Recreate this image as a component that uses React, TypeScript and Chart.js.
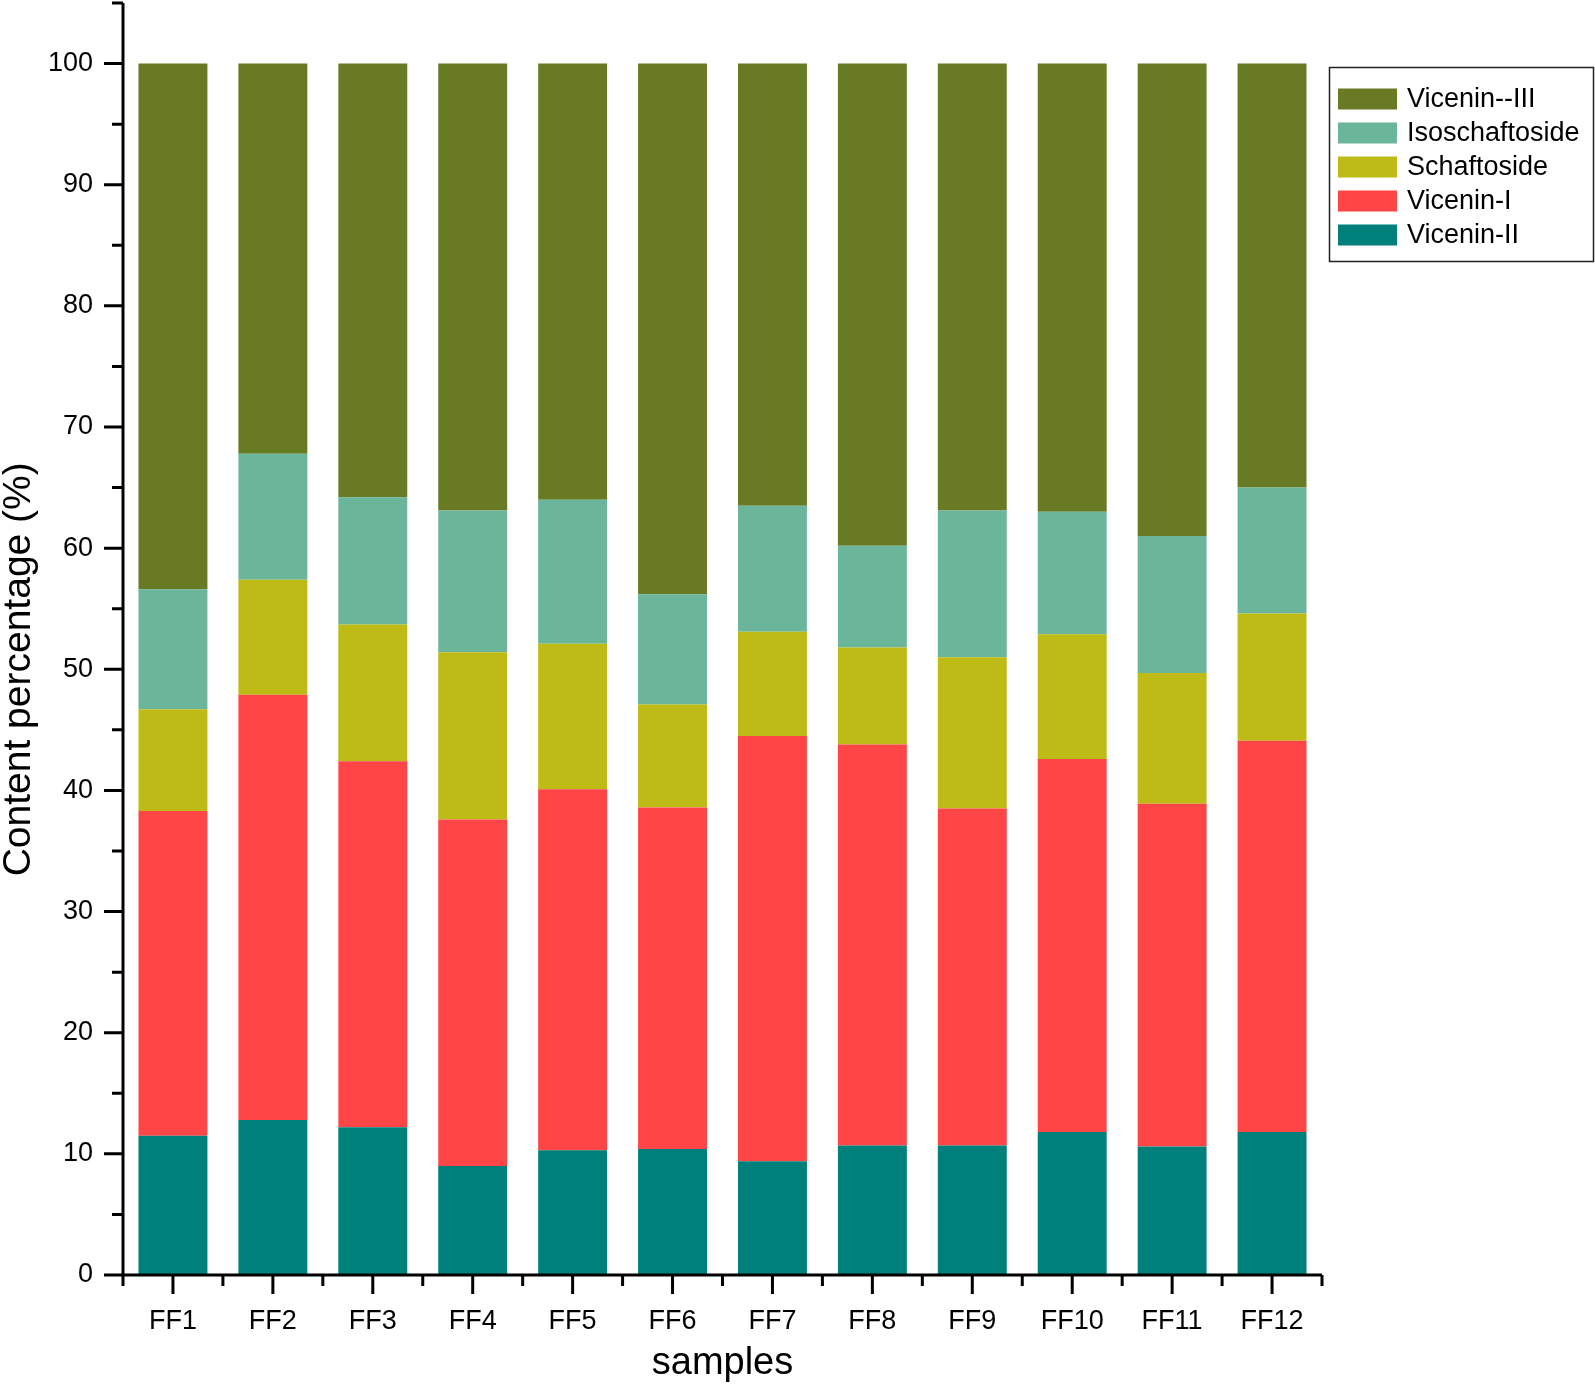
import React, { useEffect, useRef } from "react";
import { Chart, registerables } from "chart.js";

Chart.register(...registerables);

const categories = ["FF1", "FF2", "FF3", "FF4", "FF5", "FF6", "FF7", "FF8", "FF9", "FF10", "FF11", "FF12"];

const viceninII = [11.5, 12.8, 12.2, 9.0, 10.3, 10.4, 9.4, 10.7, 10.7, 11.8, 10.6, 11.8];
const viceninI = [26.8, 35.1, 30.2, 28.6, 29.8, 28.2, 35.1, 33.1, 27.8, 30.8, 28.3, 32.3];
const schaftoside = [8.4, 9.5, 11.3, 13.8, 12.0, 8.5, 8.6, 8.0, 12.5, 10.3, 10.8, 10.5];
const isoschaftoside = [9.9, 10.4, 10.5, 11.7, 11.9, 9.1, 10.4, 8.4, 12.1, 10.1, 11.3, 10.4];
const viceninIII = [43.4, 32.2, 35.8, 36.9, 36.0, 43.8, 36.5, 39.8, 36.9, 37.0, 39.0, 35.0];

const yMajorTicks = [0, 10, 20, 30, 40, 50, 60, 70, 80, 90, 100];
const yMinorTicks = [5, 15, 25, 35, 45, 55, 65, 75, 85, 95, 105];

const FONT = 'Arial, "Liberation Sans", sans-serif';

const series = [
  { label: "Vicenin-II", data: viceninII, color: "#00807A" },
  { label: "Vicenin-I", data: viceninI, color: "#FF4545" },
  { label: "Schaftoside", data: schaftoside, color: "#BEBB17" },
  { label: "Isoschaftoside", data: isoschaftoside, color: "#6BB69A" },
  { label: "Vicenin--III", data: viceninIII, color: "#687A24" },
];

const decorPlugin = {
  id: "decor",
  afterDraw(chart: any) {
    const ctx = chart.ctx;
    const area = chart.chartArea;
    const xs = chart.scales.x;
    const ys = chart.scales.y;
    ctx.save();
    ctx.strokeStyle = "#000";
    ctx.lineWidth = 3;
    ctx.lineCap = "butt";
    // axes
    ctx.beginPath();
    ctx.moveTo(area.left, ys.getPixelForValue(105));
    ctx.lineTo(area.left, area.bottom + 1.5);
    ctx.moveTo(area.left - 1.5, area.bottom);
    ctx.lineTo(area.right, area.bottom);
    ctx.stroke();
    // y ticks
    ctx.beginPath();
    yMajorTicks.forEach((v) => {
      const y = ys.getPixelForValue(v);
      ctx.moveTo(area.left - 19, y);
      ctx.lineTo(area.left, y);
    });
    yMinorTicks.forEach((v) => {
      const y = ys.getPixelForValue(v);
      ctx.moveTo(area.left - 11, y);
      ctx.lineTo(area.left, y);
    });
    // x ticks
    categories.forEach((_, i) => {
      const x = xs.getPixelForValue(i);
      ctx.moveTo(x, area.bottom);
      ctx.lineTo(x, area.bottom + 19);
    });
    for (let i = 0; i <= categories.length; i++) {
      const x = xs.getPixelForValue(i - 0.5);
      ctx.moveTo(x, area.bottom);
      ctx.lineTo(x, area.bottom + 11);
    }
    ctx.stroke();

    // axis titles
    ctx.fillStyle = "#000";
    ctx.font = `38px ${FONT}`;
    ctx.textAlign = "center";
    ctx.textBaseline = "middle";
    ctx.fillText("samples", (area.left + area.right) / 2, 1364);
    ctx.save();
    const yMid = (ys.getPixelForValue(0) + ys.getPixelForValue(100)) / 2;
    ctx.translate(19, yMid);
    ctx.rotate(-Math.PI / 2);
    ctx.font = `39px ${FONT}`;
    ctx.fillText("Content percentage (%)", 0, 0);
    ctx.restore();

    // legend
    const bx = 1329, by = 67, bw = 264, bh = 194;
    ctx.lineWidth = 1.5;
    ctx.strokeStyle = "#222";
    ctx.strokeRect(bx + 0.5, by + 0.5, bw, bh);
    ctx.font = `27px ${FONT}`;
    ctx.textAlign = "left";
    const items = chart.data.datasets.slice().reverse();
    items.forEach((ds: any, i: number) => {
      const cy = 99 + i * 34;
      ctx.fillStyle = ds.backgroundColor;
      ctx.fillRect(1338, cy - 10.5, 59, 21);
      ctx.fillStyle = "#000";
      ctx.fillText(ds.label, 1407, cy + 1);
    });
    ctx.restore();
  },
};

export default function App() {
  const ref = useRef<HTMLCanvasElement | null>(null);
  useEffect(() => {
    if (!ref.current) return;
    const chart = new Chart(ref.current, {
      type: "bar",
      data: {
        labels: categories,
        datasets: series.map((s) => ({
          label: s.label,
          data: s.data,
          backgroundColor: s.color,
          borderWidth: 0,
          barPercentage: 0.69,
          categoryPercentage: 1,
        })),
      },
      options: {
        animation: false,
        responsive: false,
        maintainAspectRatio: false,
        layout: { padding: { top: 3, right: 273, left: 0, bottom: 0 } },
        plugins: { legend: { display: false }, tooltip: { enabled: false } },
        scales: {
          x: {
            stacked: true,
            grid: { display: false, drawTicks: false },
            border: { display: false },
            ticks: { color: "#000", font: { family: FONT, size: 27 }, padding: 30, maxRotation: 0 },
            afterFit(scale: any) {
              scale.height = 110;
              scale.paddingLeft = 0;
              scale.paddingRight = 0;
            },
          },
          y: {
            stacked: true,
            min: 0,
            max: 105,
            grid: { display: false, drawTicks: false },
            border: { display: false },
            ticks: { stepSize: 10, color: "#000", font: { family: FONT, size: 27 }, padding: 30 },
            afterBuildTicks(scale: any) {
              scale.ticks = scale.ticks.filter((t: any) => t.value <= 100 && t.value % 10 === 0);
            },
            afterFit(scale: any) {
              scale.width = 123;
              scale.paddingTop = 0;
              scale.paddingBottom = 0;
            },
          },
        },
      },
      plugins: [decorPlugin],
    } as any);
    return () => chart.destroy();
  }, []);
  return (
    <div style={{ position: "absolute", left: 0, top: 0, width: 1595, height: 1385, background: "#fff" }}>
      <canvas ref={ref} width={1595} height={1385} style={{ display: "block" }} />
    </div>
  );
}
